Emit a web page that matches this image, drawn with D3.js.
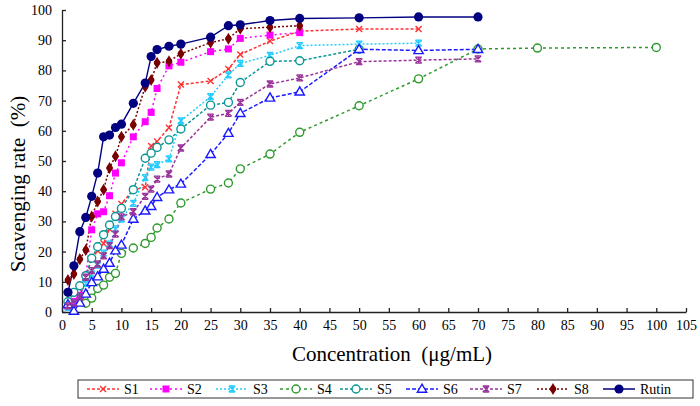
<!DOCTYPE html>
<html><head><meta charset="utf-8">
<script src="https://cdn.jsdelivr.net/npm/d3@7"></script>
<style>body{margin:0;background:#fff}svg{display:block}</style>
</head><body><svg id="c" width="700" height="406"></svg>
<script>
const FONT = "'Liberation Serif', 'Times New Roman', Times, serif";
const xTicks = d3.range(0, 106, 5);
const yTicks = d3.range(0, 101, 10);
const seriesNames = ["S1","S2","S3","S4","S5","S6","S7","S8","Rutin"];
const xS1 = [1,2,3,4,5,6,7,8,9,10,12,14,15,16,18,20,25,28,30,35,40,50,60];
const yS1 = [2,3.5,5.5,11.5,17.5,20.3,22.7,27.5,32.5,35.8,40.5,41.3,55,56.5,61,75.3,76.5,80.5,85.3,89.7,93,93.7,93.7];
const xS2 = [1,2,3,4,5,6,7,8,9,10,12,14,15,16,18,20,25,28,30,35,40];
const yS2 = [2,3.5,5.5,12,27.2,32.5,33.2,38.5,46,49.4,58,63,66.1,74,81.5,82.7,86.2,87.1,90.6,91.7,92.5];
const xS3 = [1,2,3,4,5,6,7,8,9,10,12,14,15,16,18,20,25,28,30,35,40,50,60];
const yS3 = [1.5,3,5,9.5,12.5,15.5,19.5,22.5,27.5,30.8,36,44.5,48,48.8,50.7,63.3,71.3,78.5,82.3,85,88.2,88.7,89];
const xS4 = [4,5,6,7,8,9,10,12,14,15,16,18,20,25,28,30,35,40,50,60,70,80,100];
const yS4 = [2.9,4.6,7.8,8.9,11.5,12.8,19.4,21.2,22.7,24.7,27.8,30.8,36.1,40.7,42.7,47.4,52.3,59.5,68.3,77.2,87.1,87.4,87.6];
const xS5 = [1,2,3,4,5,6,7,8,9,10,12,14,15,16,18,20,25,28,30,35,40,50];
const yS5 = [3.4,6.5,8.7,12,17.8,21.6,25.6,28.8,31.6,34.3,40.5,50.9,52.6,54.5,57,60.6,68.5,69.4,76,83,83.2,87];
const xS6 = [1,2,3,4,5,6,7,8,9,10,12,14,15,16,18,20,25,28,30,35,40,50,60,70];
const yS6 = [2.5,0.3,3,6,9.8,11.7,14.2,16.2,20.3,22.2,30.8,33.5,35,38,40.5,42.4,52.2,59.2,65.8,70.9,72.9,87,86.6,87];
const xS7 = [1,2,3,4,5,6,7,8,9,10,12,14,15,16,18,20,25,28,30,35,40,50,60,70];
const yS7 = [2,3,5,11.5,13.7,15.9,18.6,22,25.8,31.5,33.2,38.3,40.7,44,45.7,54.3,64.5,65.8,69.4,75.5,77.5,82.9,83.4,83.8];
const xS8 = [1,2,3,4,5,6,7,8,9,10,12,14,15,16,18,20,25,28,30,35,40];
const yS8 = [10.6,12.6,17.5,20.5,31.6,36.6,40.5,47.7,51.6,58,62,74.6,76.8,82.5,83,85.5,89.2,90.5,93.8,94.3,94.8];
const xRutin = [1,2,3,4,5,6,7,8,9,10,12,14,15,16,18,20,25,28,30,35,40,50,60,70];
const yRutin = [6.5,15.3,26.6,31.3,38.3,46,58,58.6,61.1,62.2,69.1,75.8,84.6,86.9,88,88.7,91,94.8,95.1,96.5,97.2,97.4,97.7,97.7];

const xs = [xS1,xS2,xS3,xS4,xS5,xS6,xS7,xS8,xRutin];
const ys = [yS1,yS2,yS3,yS4,yS5,yS6,yS7,yS8,yRutin];
const styles = [
  {c:"#ff3030", dash:"3,2", m:"x"},
  {c:"#ff00ff", dash:"2,3", m:"square"},
  {c:"#22ccff", dash:"2,2", m:"star"},
  {c:"#2e9a2e", dash:"3,3", m:"circle"},
  {c:"#0a9696", dash:"3,2", m:"circle"},
  {c:"#1a1aff", dash:"4,2", m:"triangle"},
  {c:"#993399", dash:"3,2", m:"star"},
  {c:"#7a0000", dash:"2,2", m:"dot"},
  {c:"#000080", dash:null, m:"bigdot"}
];

const svg = d3.select("#c");
const x = d3.scaleLinear().domain([0,105]).range([62,686]);
const y = d3.scaleLinear().domain([0,100]).range([312,10]);

// axes
const gx = svg.append("g").attr("transform","translate(0,312)")
  .call(d3.axisBottom(x).tickValues(xTicks).tickSize(-4).tickSizeOuter(0).tickPadding(8));
const gy = svg.append("g").attr("transform","translate(62,0)")
  .call(d3.axisLeft(y).tickValues(yTicks).tickSize(-4).tickSizeOuter(0).tickPadding(10));
[gx,gy].forEach(g=>{
  g.attr("font-family",FONT);
  g.selectAll("path,line").attr("stroke","#222").attr("stroke-width",1.3);
  g.selectAll("text").attr("font-size",14).attr("fill","#000").attr("font-family",FONT);
});

svg.append("text").attr("x",392).attr("y",361).attr("text-anchor","middle").attr("font-size",21)
  .attr("font-family",FONT).text("Concentration\u00a0\u00a0(\u03bcg/mL)");
svg.append("text").attr("transform","translate(25,184) rotate(-90)").attr("text-anchor","middle").attr("font-size",21)
  .attr("font-family",FONT).text("Scavenging rate\u00a0\u00a0(%)");

function drawMarker(g, st, cx, cy){
  const c = st.c;
  if(st.m==="x"){
    g.append("path").attr("d",`M${cx-3},${cy-3}L${cx+3},${cy+3}M${cx-3},${cy+3}L${cx+3},${cy-3}`)
      .attr("stroke",c).attr("stroke-width",1.4).attr("fill","none");
  } else if(st.m==="square"){
    g.append("rect").attr("x",cx-3.5).attr("y",cy-3.5).attr("width",7).attr("height",7).attr("fill",c);
  } else if(st.m==="star"){
    g.append("path").attr("d",`M${cx-3.2},${cy-3}L${cx+3.2},${cy+3}M${cx-3.2},${cy+3}L${cx+3.2},${cy-3}M${cx-3.2},${cy-3}L${cx+3.2},${cy-3}M${cx-3.2},${cy+3}L${cx+3.2},${cy+3}M${cx},${cy-3}L${cx},${cy+3}`)
      .attr("stroke",c).attr("stroke-width",1.3).attr("fill","none");
  } else if(st.m==="circle"){
    g.append("circle").attr("cx",cx).attr("cy",cy).attr("r",4).attr("fill","#fff").attr("stroke",c).attr("stroke-width",1.4);
  } else if(st.m==="triangle"){
    g.append("path").attr("d",d3.symbol(d3.symbolTriangle,38)()).attr("transform",`translate(${cx},${cy+0.5})`)
      .attr("fill","#fff").attr("stroke",c).attr("stroke-width",1.4);
  } else if(st.m==="dot"){
    g.append("path").attr("d",d3.symbol(d3.symbolDiamond,42)()).attr("transform",`translate(${cx},${cy})`).attr("fill",c);
    g.append("circle").attr("cx",cx).attr("cy",cy).attr("r",3).attr("fill",c);
  } else if(st.m==="bigdot"){
    g.append("circle").attr("cx",cx).attr("cy",cy).attr("r",4.6).attr("fill",c);
  }
}

const line = d3.line().x(d=>x(d[0])).y(d=>y(d[1]));
const plot = svg.append("g");
xs.forEach((xv,i)=>{
  const st = styles[i];
  const pts = xv.map((v,j)=>[v, ys[i][j]]);
  const p = plot.append("path").attr("d",line(pts)).attr("fill","none").attr("stroke",st.c)
    .attr("stroke-width", i===8 ? 1.4 : 1.5);
  if(st.dash) p.attr("stroke-dasharray",st.dash);
});
xs.forEach((xv,i)=>{
  const g = plot.append("g");
  xv.forEach((v,j)=>drawMarker(g, styles[i], x(v), y(ys[i][j])));
});

// legend
const lg = svg.append("g");
lg.append("rect").attr("x",78).attr("y",380).attr("width",615).attr("height",18)
  .attr("fill","#fff").attr("stroke","#333").attr("stroke-width",1);
const legX = [87,150,216,280,340,406,470,537,603];
seriesNames.forEach((nm,i)=>{
  const st = styles[i];
  const lx = legX[i], ly = 389;
  const l = lg.append("line").attr("x1",lx).attr("x2",lx+32).attr("y1",ly).attr("y2",ly)
    .attr("stroke",st.c).attr("stroke-width",1.5);
  if(st.dash) l.attr("stroke-dasharray",st.dash);
  drawMarker(lg, st, lx+16, ly);
  lg.append("text").attr("x",lx+37).attr("y",394).attr("font-size",14).attr("font-family",FONT).text(nm);
});
</script></body></html>
